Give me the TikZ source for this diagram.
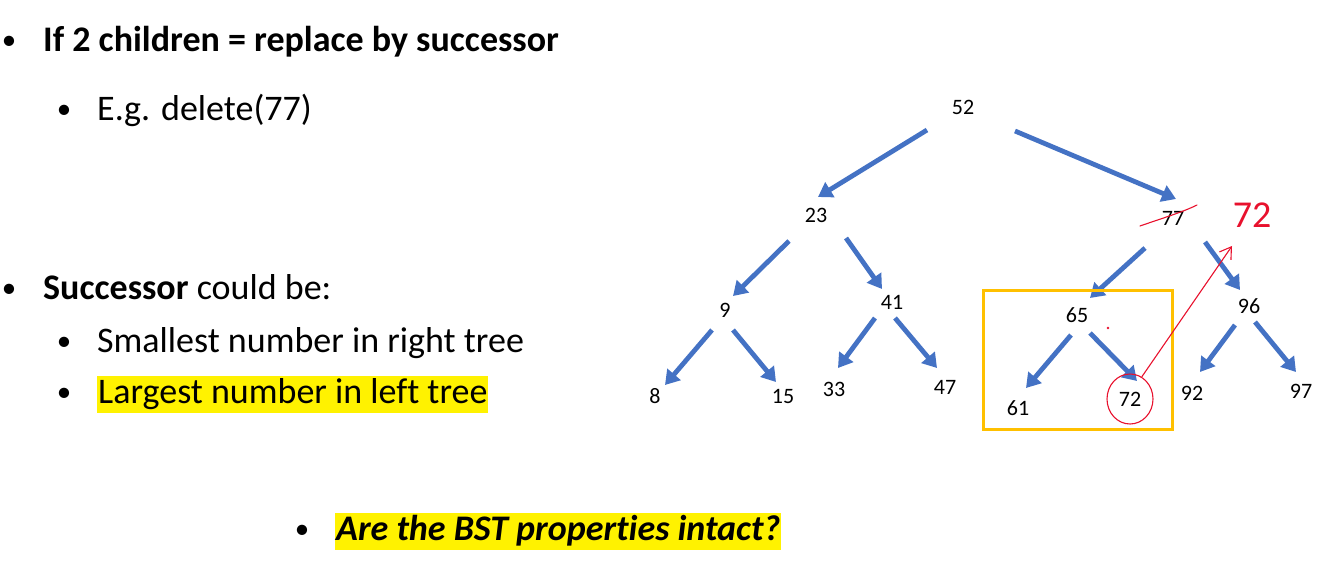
\documentclass[tikz,border=0pt]{standalone}
\usepackage{fontspec}
\setmainfont{Carlito}[Ligatures=NoCommon]
\usetikzlibrary{arrows.meta,calc,shapes.geometric}
\definecolor{arrblue}{HTML}{4472C4}
\definecolor{boxorange}{HTML}{FFC000}
\definecolor{inkred}{HTML}{E8112D}
\begin{document}
\begin{tikzpicture}[x=1pt,y=-1pt,
  txt/.style={anchor=base west,inner sep=0pt,font=\fontsize{36}{40}\selectfont},
  bul/.style={anchor=base,inner sep=0pt,font=\fontsize{29}{32}\selectfont},
  hl/.style={txt,fill=yellow,inner xsep=1pt,text height=27pt,text depth=10pt},
  tnode/.style={inner sep=0pt,font=\fontsize{22}{24}\selectfont},
  arr/.style={draw=arrblue,line width=4.8pt,-{Triangle[length=14pt,width=17pt]}},
  ink/.style={draw=inkred,line width=1.1pt,line cap=round,line join=round}]
\useasboundingbox (0,0) rectangle (1339,572);
% left text
\node[bul] (b1) at (9,50) {•};
\node[txt] (t1) at (43,52) {\bfseries If 2 children = replace by successor};
\node[bul] (b2) at (64,119) {•};
\node[txt] (t2) at (97,121) {E.g. delete(77)};
\node[bul] (b3) at (9,297) {•};
\node[txt] (t3) at (43,299) {\bfseries Successor\mdseries{} could be:};
\node[bul] (b4) at (64,350) {•};
\node[txt] (t4) at (97,352) {Smallest number in right tree};
\node[bul] (b5) at (64,401) {•};
\node[hl] (t5) at (97,403) {Largest number in left tree};
\node[bul] (b6) at (302,538) {•};
\node[hl] (t6) at (335,540) {\bfseries\itshape Are the BST properties intact?};
% tree
\node[tnode] (n52) at (963,107) {52};
\node[tnode] (n23) at (816,215) {23};
\node[tnode] (n77) at (1173,218) {77};
\node[tnode] (n9)  at (725,310) {9};
\node[tnode] (n41) at (892,302) {41};
\node[tnode] (n65) at (1077,315) {65};
\node[tnode] (n96) at (1249,306) {96};
\node[tnode] (n8)  at (655,396) {8};
\node[tnode] (n15) at (783,396) {15};
\node[tnode] (n33) at (834,389) {33};
\node[tnode] (n47) at (945,387) {47};
\node[tnode] (n61) at (1018,408) {61};
\node[tnode] (n72) at (1130,399) {72};
\node[tnode] (n92) at (1192,393) {92};
\node[tnode] (n97) at (1301,391) {97};
\draw[arr] ($(n52)+(-36,23)$) -- ($(n23)+(2,-18)$);
\draw[arr] ($(n52)+(52,24)$) -- ($(n77)+(3,-19)$);
\draw[arr] ($(n23)+(-27,26)$) -- ($(n9)+(8,-14)$);
\draw[arr] ($(n23)+(30,23)$) -- ($(n41)+(-10,-13)$);
\draw[arr] ($(n77)+(-28,30)$) -- ($(n65)+(13,-17)$);
\draw[arr] ($(n77)+(32,24)$) -- ($(n96)+(-9,-16)$);
\draw[arr] ($(n9)+(-13,20)$) -- ($(n8)+(10,-11)$);
\draw[arr] ($(n9)+(8,20)$) -- ($(n15)+(-7,-14)$);
\draw[arr] ($(n41)+(-17,16)$) -- ($(n33)+(4,-21)$);
\draw[arr] ($(n41)+(3,16)$) -- ($(n47)+(-8,-19)$);
\draw[arr] ($(n65)+(-6,20)$) -- ($(n61)+(8,-20)$);
\draw[arr] ($(n65)+(13,18)$) -- ($(n72)+(7,-18)$);
\draw[arr] ($(n96)+(-14,19)$) -- ($(n92)+(8,-21)$);
\draw[arr] ($(n96)+(6,16)$) -- ($(n97)+(-5,-19)$);
% orange box
\draw[draw=boxorange,line width=3pt] (983,290) rectangle (1172,429);
% red annotations
\draw[ink] ($(n77)+(-33,8)$) .. controls ($(n77)+(-10,0)$) and ($(n77)+(10,-6)$) .. ($(n77)+(24,-13)$);
\node[text=inkred,inner sep=0pt,font=\fontsize{38}{40}\selectfont] (new72) at (1252,215) {72};
\node[ink,ellipse,minimum width=46pt,minimum height=50pt,inner sep=0pt] (circ) at (n72) {};
\draw[ink,-{Straight Barb[length=11pt,width=14pt]}] (circ.62) -- ($(new72)+(-20,31)$);
\fill[inkred] (1108,328) circle (1.3pt);
\end{tikzpicture}
\end{document}
